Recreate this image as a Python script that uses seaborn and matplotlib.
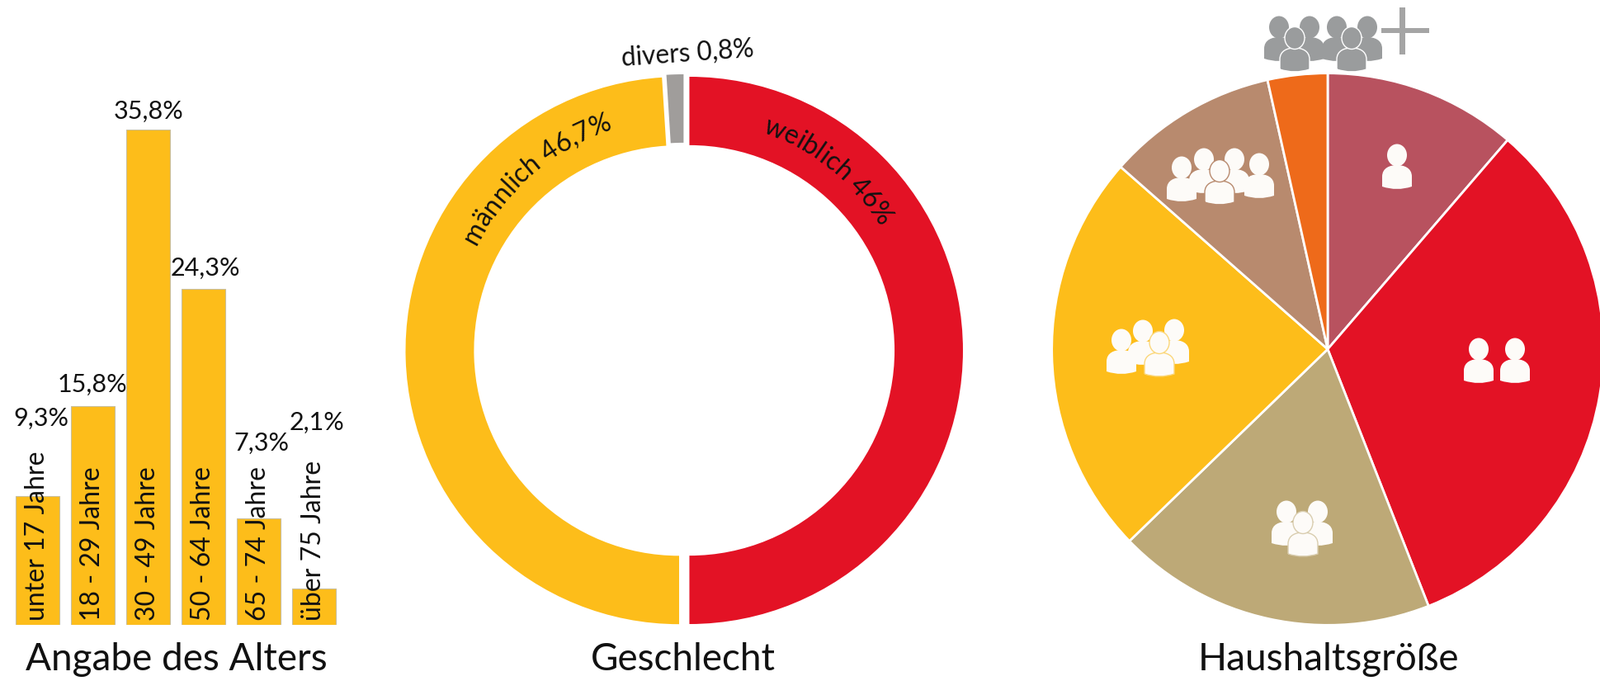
import numpy as np
import matplotlib
matplotlib.use("Agg")
import matplotlib.pyplot as plt
import seaborn as sns
import pandas as pd
from matplotlib.font_manager import FontProperties
from matplotlib.patches import Ellipse, PathPatch, Rectangle
from matplotlib.path import Path

# --- Data ---
age_groups = ["unter 17 Jahre", "18 - 29 Jahre", "30 - 49 Jahre", "50 - 64 Jahre", "65 - 74 Jahre", "über 75 Jahre"]
age_heights = [9.3, 15.8, 35.8, 24.3, 7.7, 2.6]  # as drawn in the picture
age_labels = ["9,3%", "15,8%", "35,8%", "24,3%", "7,3%", "2,1%"]

gender_names = ["weiblich 46%", "männlich 46,7%", "divers 0,8%"]
gender_arcs = [50.0, 49.0, 1.0]  # arc share as drawn

household_shares = [11.3, 32.7, 18.7, 23.7, 10.0, 3.5]

# --- Style ---
YELLOW = "#FDBD1A"
RED = "#E31225"
GREY = "#A09D9B"
household_colors = ["#B8525F", RED, "#BDA977", YELLOW, "#B88A6E", "#EE6A1A"]
FONT = "Lato"
W, H = 1939, 825

sns.set_theme(style="white")
plt.rcParams["font.family"] = [FONT, "DejaVu Sans"]

fig = plt.figure(figsize=(W / 100, H / 100), dpi=100, facecolor="white")


def px_axes(left, top, right, bottom, **kw):
    return fig.add_axes([left / W, 1 - bottom / H, (right - left) / W, (bottom - top) / H], **kw)


# --- Bars ---
ax_bar = px_axes(12, 157, 414, 757)
df_age = pd.DataFrame({"group": age_groups, "value": age_heights})
sns.barplot(data=df_age, x="group", y="value", color=YELLOW, saturation=1, width=0.79,
            edgecolor="#C9BE9A", linewidth=0.8, ax=ax_bar)
ax_bar.set_ylim(0, 35.8)
ax_bar.set_xlim(-0.5, 5.5)
ax_bar.axis("off")
for i, name in enumerate(age_groups):
    ax_bar.text(i, 0.28, name, rotation=90, ha="center", va="bottom", fontsize=23, color="#111111")

# --- Donut ---
ax_donut = px_axes(828.5 - 340, 424.5 - 340, 828.5 + 340, 424.5 + 340)
ax_donut.pie(gender_arcs, colors=[RED, YELLOW, GREY], startangle=90, counterclock=False,
             explode=[0.021, 0.0166, 0.009], radius=1,
             wedgeprops={"width": 0.25, "edgecolor": "none"})
ax_donut.set_aspect("auto")
ax_donut.set_xlim(-340 / 331.5, 340 / 331.5)
ax_donut.set_ylim(-340 / 331.5, 340 / 331.5)

# --- Household pie ---
ax_pie = px_axes(1609 - 336, 423 - 336, 1609 + 336, 423 + 336)
ax_pie.pie(household_shares, colors=household_colors, startangle=90, counterclock=False, radius=1,
           wedgeprops={"edgecolor": "white", "linewidth": 2})
ax_pie.set_aspect("auto")
ax_pie.set_xlim(-1.005, 1.005)
ax_pie.set_ylim(-1.005, 1.005)

# --- Overlay in pixel coordinates for text and icons ---
ov = fig.add_axes([0, 0, 1, 1], facecolor="none")
ov.set_xlim(0, W)
ov.set_ylim(H, 0)
ov.axis("off")

label_pos = [(49.5, 507), (112, 466), (180, 135), (249, 325), (317, 537), (383.5, 512)]
for (x, y), txt in zip(label_pos, age_labels):
    ov.text(x, y, txt, ha="center", va="center", fontsize=22, color="#111111")

for x, txt in [(214, "Angabe des Alters"), (828, "Geschlecht"), (1610, "Haushaltsgröße")]:
    ov.text(x, 812, txt, ha="center", va="baseline", fontsize=33, color="#111111")

ov.text(833, 65, gender_names[2], ha="center", va="center", rotation=4, fontsize=22.8, color="#111111")


def curved_text(text, start_deg, radius, size, cx=828, cy=423):
    # one glyph per position, baseline on a circle around the donut centre
    renderer = fig.canvas.get_renderer()
    fp = FontProperties(family=FONT, size=size)
    w_ref = renderer.get_text_width_height_descent("aa", fp, False)[0]
    angle = start_deg
    for ch in text:
        w = renderer.get_text_width_height_descent("a" + ch + "a", fp, False)[0] - w_ref
        step = np.degrees(w / radius)
        mid = np.radians(angle + step / 2)
        ov.text(cx + radius * np.sin(mid), cy - radius * np.cos(mid), ch, fontsize=size,
                rotation=-np.degrees(mid), rotation_mode="anchor", ha="center", va="baseline",
                color="#111111")
        angle += step


curved_text(gender_names[1], -63.5, 280, 23)
curved_text(gender_names[0], 20, 280, 23)


# --- Icons ---
def person(cx, head_y, color, edge=None):
    top, bot, hw = head_y + 12, head_y + 41, 18
    verts = [(cx - hw, bot - 3), (cx - hw, top + 14), (cx - hw, top + 3), (cx - 8, top), (cx, top),
             (cx + 8, top), (cx + hw, top + 3), (cx + hw, top + 14), (cx + hw, bot - 3),
             (cx, bot + 3), (cx - hw, bot - 3)]
    codes = [Path.MOVETO, Path.LINETO, Path.CURVE4, Path.CURVE4, Path.CURVE4,
             Path.CURVE4, Path.CURVE4, Path.CURVE4, Path.LINETO, Path.CURVE3, Path.CURVE3]
    lw = 1.0 if edge else 0
    ec = edge if edge else "none"
    ov.add_patch(PathPatch(Path(verts, codes), fc=color, ec=ec, lw=lw))
    ov.add_patch(Ellipse((cx, head_y), 24, 27, fc=color, ec=ec, lw=lw))


WHITE = "#FDFBF8"
person(1693, 188, WHITE)
person(1792, 423, WHITE)
person(1836, 423, WHITE)

person(1559, 620, WHITE)
person(1597, 620, WHITE)
person(1579, 633, WHITE, edge="#D9CDAF")

person(1359, 412, WHITE)
person(1385, 401, WHITE)
person(1423, 400, WHITE)
person(1405, 415, WHITE, edge="#FBD77A")

person(1432, 203, WHITE)
person(1459, 193, WHITE)
person(1496, 193, WHITE)
person(1526, 199, WHITE)
person(1478, 207, WHITE, edge="#B88A6E")

ICON_GREY = "#9A9C9D"
for hx in (1550, 1587, 1620, 1657):
    person(hx, 33, ICON_GREY)
for hx in (1569, 1638):
    person(hx, 46, ICON_GREY, edge="white")
ov.add_patch(Rectangle((1696, 9), 7, 57, fc="#A5A5A5", ec="none"))
ov.add_patch(Rectangle((1674, 34), 58, 6, fc="#A5A5A5", ec="none"))

fig.savefig("out.png", dpi=100)
